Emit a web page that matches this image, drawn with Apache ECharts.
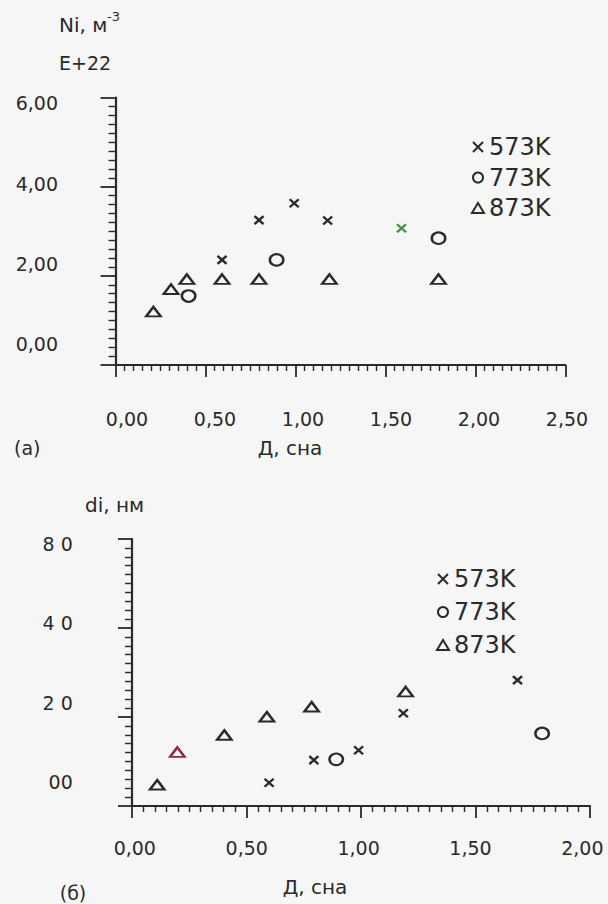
<!DOCTYPE html>
<html><head><meta charset="utf-8">
<script src="https://cdn.jsdelivr.net/npm/echarts@6/dist/echarts.min.js"></script>
<style>html,body{margin:0;padding:0;background:#f6f6f6;}#c{width:608px;height:904px;}</style>
</head><body><div id="c"></div>
<script>
// ---------- data: panel (a) Ni ----------
const seriesNames = ['573K', '773K', '873K'];
const a573x = [0.54, 0.75, 0.95, 1.14, 1.56];
const a573y = [2.10, 3.09, 3.51, 3.08, 2.89];
const a773x = [0.35, 0.85, 1.77];
const a773y = [1.20, 2.10, 2.64];
const a873x = [0.15, 0.25, 0.34, 0.54, 0.75, 1.15, 1.77];
const a873y = [0.81, 1.37, 1.62, 1.62, 1.62, 1.62, 1.62];
const aXTicks = ['0,00', '0,50', '1,00', '1,50', '2,00', '2,50'];
const aYTicks = ['0,00', '2,00', '4,00', '6,00'];
// ---------- data: panel (б) di ----------
const b573x = [0.60, 0.80, 1.00, 1.20, 1.71];
const b573y = [-0.1, 5.6, 8.1, 17.4, 25.7];
const b773x = [0.90, 1.82];
const b773y = [5.8, 12.3];
const b873x = [0.10, 0.19, 0.40, 0.59, 0.79, 1.21];
const b873y = [-0.6, 7.6, 11.9, 16.5, 19.0, 22.8];
const bXTicks = ['0,00', '0,50', '1,00', '1,50', '2,00'];
const bYTicks = ['00', '2 0', '4 0', '8 0'];

const INK = '#2a2a2a';
const FONT = 'DejaVu Sans';
const CROSS = 'path://M0,0L10,10M10,0L0,10';
const pts = (xs, ys) => xs.map((x, i) => [x, ys[i]]);
const hollow = { color: 'rgba(0,0,0,0)', borderColor: INK, borderWidth: 2.3, opacity: 1 };

function ruler(gridIndex, max, major, minor) {
  return {
    type: 'value', gridIndex, min: 0, max, interval: 10,
    axisLine: { show: true, onZero: true, lineStyle: { color: INK, width: 2.2 } },
    axisTick: { show: true, length: major, lineStyle: { color: INK, width: 1.8 } },
    minorTick: { show: true, splitNumber: 10, length: minor, lineStyle: { color: INK, width: 1.4 } },
    axisLabel: { show: false }, splitLine: { show: false }, minorSplitLine: { show: false }
  };
}
function dataAxis(gridIndex, min, max, interval, labels, margin) {
  return {
    type: 'value', gridIndex, min, max, interval,
    axisLine: { show: false }, axisTick: { show: false }, splitLine: { show: false },
    axisLabel: { show: true, margin, color: INK, fontSize: 19, fontFamily: FONT,
      formatter: (v, i) => labels[Math.round((v - min) / interval)] }
  };
}
function scatter(name, xAxisIndex, data, kind) {
  const sym = kind === 0 ? CROSS : kind === 1 ? 'circle' : 'triangle';
  const size = kind === 0 ? [9, 8] : kind === 1 ? [13.5, 11.5] : [14.5, 9.5];
  return {
    type: 'scatter', name, xAxisIndex, yAxisIndex: xAxisIndex, data, clip: false,
    symbol: sym, symbolSize: size, symbolKeepAspect: false,
    itemStyle: hollow, emphasis: { disabled: true }, z: 5
  };
}
function legend(left, top, gap) {
  const icons = [CROSS, 'circle', 'triangle'];
  return {
    orient: 'vertical', left, top, itemGap: gap, itemWidth: 12, itemHeight: 10,
    symbolKeepAspect: true, selectedMode: false,
    textStyle: { color: INK, fontSize: 24, fontFamily: FONT },
    data: seriesNames.map((n, i) => ({ name: n, icon: icons[i],
      itemStyle: { color: 'rgba(0,0,0,0)', borderColor: INK, borderWidth: 2 } }))
  };
}
function txt(x, y, text, size, align) {
  return { type: 'text', x, y, silent: true,
    style: { text, fill: INK, fontSize: size, fontFamily: FONT, align: align || 'left', verticalAlign: 'middle' } };
}

const option = {
  backgroundColor: '#f6f6f6',
  animation: false,
  grid: [
    { left: 115.5, right: 42.7, top: 97.7, bottom: 904 - 365, outerBoundsMode: 'none' },
    { left: 127, right: 41, top: 103.3, bottom: 904 - 344.2, outerBoundsMode: 'none' },
    { left: 132, right: 18, top: 539, bottom: 904 - 806, outerBoundsMode: 'none' },
    { left: 134.8, right: 25.6, top: 543.6, bottom: 904 - 782.4, outerBoundsMode: 'none' }
  ],
  xAxis: [
    ruler(0, 50, 12, 6),
    dataAxis(1, 0, 2.5, 0.5, aXTicks, 65),
    ruler(2, 40, 12, 6),
    dataAxis(3, 0, 2, 0.5, bXTicks, 56)
  ],
  yAxis: [
    ruler(0, 30, 15, 7),
    dataAxis(1, 0, 6, 2, aYTicks, 69),
    ruler(2, 30, 14, 7),
    dataAxis(3, 0, 60, 20, bYTicks, 62)
  ],
  legend: [legend(466, 130, 6.5), legend(431, 562, 9)],
  series: [
    scatter('573K', 1, pts(a573x, a573y).map((p, i) => i === 4 ? { value: p, itemStyle: { borderColor: '#4a8f45' } } : p), 0),
    scatter('773K', 1, pts(a773x, a773y), 1),
    scatter('873K', 1, pts(a873x, a873y), 2),
    scatter('573K', 3, pts(b573x, b573y), 0),
    scatter('773K', 3, pts(b773x, b773y), 1),
    scatter('873K', 3, pts(b873x, b873y).map((p, i) => i === 1 ? { value: p, itemStyle: { borderColor: '#8a2c3c' } } : p), 2)
  ],
  graphic: [
    txt(59, 25, 'Ni, м', 20),
    txt(107, 16, '-3', 13),
    txt(59, 63, 'E+22', 19),
    txt(14, 448, '(a)', 19),
    txt(290, 448, 'Д, сна', 20, 'center'),
    txt(85, 505, 'di, нм', 20),
    txt(73, 893, '(б)', 19, 'center'),
    txt(315, 887, 'Д, сна', 20, 'center')
  ]
};
const chart = echarts.init(document.getElementById('c'), null, { renderer: 'svg', width: 608, height: 904 });
chart.setOption(option);
</script>
</body></html>
